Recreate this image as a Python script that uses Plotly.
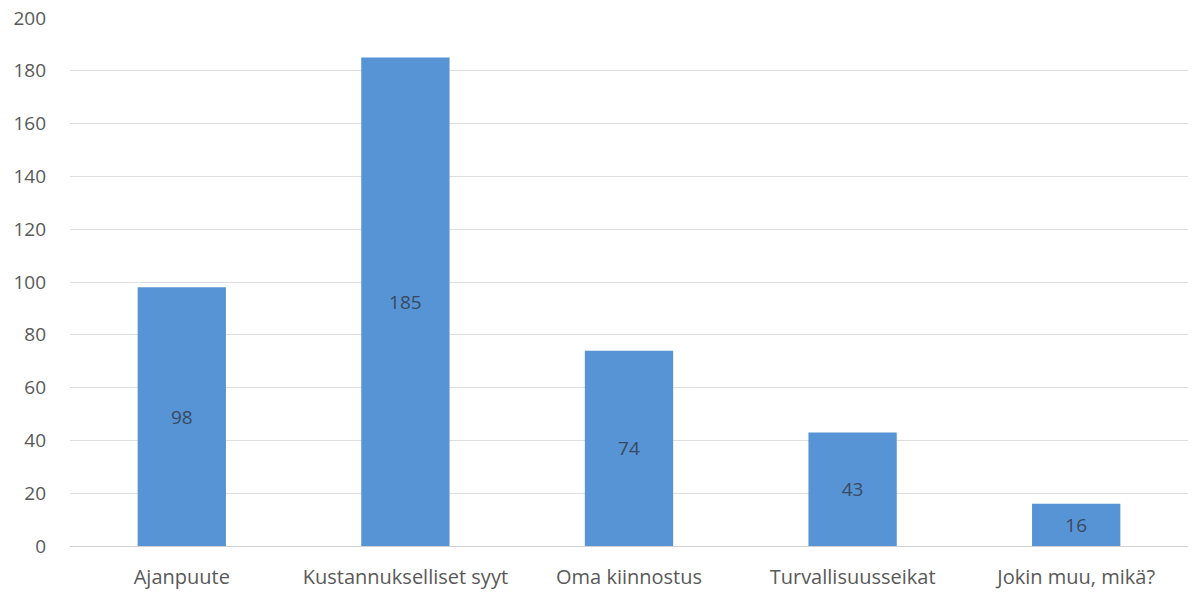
import plotly.graph_objects as go

categories = ["Ajanpuute", "Kustannukselliset syyt", "Oma kiinnostus", "Turvallisuusseikat", "Jokin muu, mikä?"]
values = [98, 185, 74, 43, 16]
y_ticks = [0, 20, 40, 60, 80, 100, 120, 140, 160, 180, 200]

FONT = "Open Sans, Lato, sans-serif"

fig = go.Figure(go.Bar(
    x=categories,
    y=values,
    text=[str(v) for v in values],
    textposition="inside",
    insidetextanchor="middle",
    textangle=0,
    textfont=dict(family=FONT, size=19, color="#3a4a5e"),
    marker=dict(color="#5694d6", line=dict(width=0)),
    hoverinfo="x+y",
))

fig.update_layout(
    width=1203, height=592,
    margin=dict(l=70, r=15, t=18, b=46, autoexpand=False),
    paper_bgcolor="white", plot_bgcolor="white",
    bargap=0.605,
    showlegend=False,
    font=dict(family=FONT, size=20, color="#595959"),
)
fig.update_xaxes(
    range=[-0.5, 4.5], showgrid=False, showline=False, zeroline=False,
    ticks="", ticklabelstandoff=17, automargin=False,
    tickfont=dict(size=20, color="#595959"),
)
fig.update_yaxes(
    range=[0, 200], tickvals=y_ticks, showgrid=True, gridcolor="#dedede", gridwidth=1,
    zeroline=True, zerolinecolor="#d0d0d0", zerolinewidth=1, showline=False,
    ticks="", ticklabelstandoff=23, automargin=False,
    tickfont=dict(size=19, color="#595959"),
)

fig.write_html("out.html")
